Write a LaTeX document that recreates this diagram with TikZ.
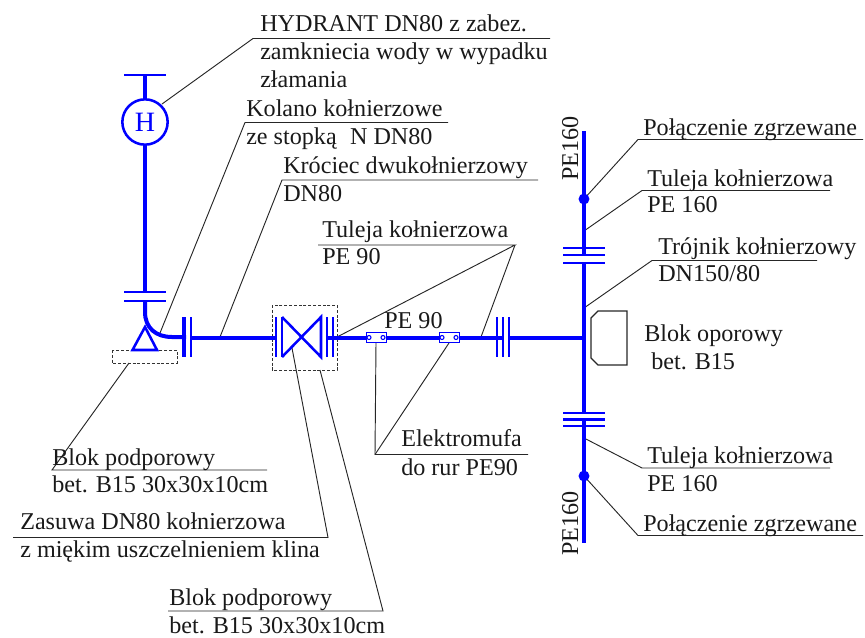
\documentclass[tikz,border=0pt]{standalone}
\usepackage{fontspec}
\setmainfont{Liberation Serif}
\definecolor{pipe}{RGB}{0,0,255}
\tikzset{
  pipeline/.style={draw=pipe,line width=3pt},
  thinpipe/.style={draw=pipe,line width=1.9pt},
  leader/.style={draw=black!85,line width=0.7pt},
  label/.style={anchor=base west,inner sep=0pt,font=\fontsize{18.1}{20}\selectfont,text=black!90},
  dashbox/.style={draw=black!80,line width=0.6pt,dash pattern=on 2.2pt off 1.4pt},
  dot/.style={circle,fill=pipe,inner sep=0pt,minimum size=8.2pt},
  coupler/.style={draw=pipe,line width=1.4pt,fill=white,rectangle,minimum width=15pt,minimum height=7.5pt,inner sep=0pt},
  bubble/.style={circle,draw=pipe,line width=0.8pt,inner sep=0pt,minimum size=3pt,fill=white}
}
\begin{document}
\begin{tikzpicture}[x=0.75pt,y=-0.75pt]
\useasboundingbox (0,0) rectangle (865,637);
% named anchor points
\coordinate (hy) at (162,104);
\coordinate (hyk) at (253,38.5);
\coordinate (hye) at (550,38.5);
\coordinate (kol) at (160,333);
\coordinate (kolk) at (245,122.5);
\coordinate (kole) at (448,122.5);
\coordinate (kro) at (220,337);
\coordinate (krok) at (282,180);
\coordinate (kroe) at (538,180);
\coordinate (tuk) at (515,245);
\coordinate (tus) at (318,245);
\coordinate (tua) at (337,337);
\coordinate (tub) at (481,337);
\coordinate (elk) at (375,454.5);
\coordinate (ele) at (528,454.5);
\coordinate (p1) at (584,199);
\coordinate (p1k) at (638,139.5);
\coordinate (p1e) at (863,139.5);
\coordinate (t1) at (584,231);
\coordinate (t1k) at (642,190.5);
\coordinate (t1e) at (830,190.5);
\coordinate (tr) at (584,308);
\coordinate (trk) at (652,260.5);
\coordinate (tre) at (817,260.5);
\coordinate (t2) at (584,438);
\coordinate (t2k) at (642,468);
\coordinate (t2e) at (830,468);
\coordinate (p2) at (584,476);
\coordinate (p2k) at (638,535.5);
\coordinate (p2e) at (863,535.5);
\coordinate (bl) at (129,363);
\coordinate (blk) at (52,470);
\coordinate (ble) at (267,470);
\coordinate (zs) at (292,348);
\coordinate (zk) at (328,537.5);
\coordinate (ze) at (13,537.5);
\coordinate (bs) at (320,370);
\coordinate (bk) at (383,611);
\coordinate (be) at (168,611);
% leaders
\draw[leader] (hy) -- (hyk) -- (hye);
\draw[leader] (kol) -- (kolk) -- (kole);
\draw[leader] (kro) -- (krok) -- (kroe);
\draw[leader] (tus) -- (tuk) -- (tua);
\draw[leader] (tuk) -- (tub);
\draw[leader] (376,343) -- (elk) -- (ele);
\draw[leader] (449,343) -- (elk);
\draw[leader] (p1) -- (p1k) -- (p1e);
\draw[leader] (t1) -- (t1k) -- (t1e);
\draw[leader] (tr) -- (trk) -- (tre);
\draw[leader] (t2) -- (t2k) -- (t2e);
\draw[leader] (p2) -- (p2k) -- (p2e);
\draw[leader] (bl) -- (blk) -- (ble);
\draw[leader] (zs) -- (zk) -- (ze);
\draw[leader] (bs) -- (bk) -- (be);
% dashed boxes
\draw[dashbox] (112,350) rectangle (177,363);
\draw[dashbox] (272,305) rectangle (337,370);
% hydrant
\draw[thinpipe] (124,75) -- (166,75);
\draw[pipeline] (145,75) -- (145,100);
\node[circle,draw=pipe,line width=1.9pt,minimum size=34pt,inner sep=0pt,text=pipe,font=\fontsize{21}{22}\selectfont] (hyd) at (145,122) {H};
\draw[pipeline] (hyd.south) -- (145,292);
\draw[thinpipe] (124,292) -- (166,292);
\draw[thinpipe] (124,301) -- (166,301);
\draw[pipeline] (145,300) -- (145,312) .. controls (145,328) and (156,337) .. (172,337) -- (186,337);
\draw[thinpipe] (145,327) -- (132.5,350) -- (157,350) -- cycle;
% flanges on branch
\draw[draw=pipe,line width=2.6pt] (184,317) -- (184,357);
\draw[thinpipe] (191,317) -- (191,357);
\draw[pipeline] (190,337.5) -- (276,337.5);
% valve
\draw[thinpipe] (276,317) -- (276,357);
\draw[thinpipe] (282,317) -- (282,357);
\draw[thinpipe] (282,317) -- (321,357) -- (321,317) -- (282,357);
\draw[thinpipe] (327,317) -- (327,357);
\draw[thinpipe] (333,317) -- (333,357);
\draw[pipeline] (326,337.5) -- (366,337.5);
% PE90 run with couplers
\draw[pipeline] (386,337.5) -- (440,337.5);
\draw[pipeline] (459,337.5) -- (504,337.5);
\node[coupler] (c1) at (376.5,337.5) {};
\node[coupler] (c2) at (449.5,337.5) {};
\node[bubble] at (369,337.5) {};
\node[bubble] at (383,337.5) {};
\node[bubble] at (442,337.5) {};
\node[bubble] at (456,337.5) {};
\draw[thinpipe] (497,317) -- (497,357);
\draw[thinpipe] (503,317) -- (503,357);
\draw[thinpipe] (509,317) -- (509,357);
\draw[pipeline] (509,337.5) -- (584,337.5);
% main vertical
\draw[pipeline] (584,131) -- (584,255);
\draw[pipeline] (584,262) -- (584,413);
\draw[pipeline] (584,419) -- (584,543);
\foreach \yy in {248,255,263,413,419.5,426}
  \draw[thinpipe] (563,\yy) -- (605,\yy);
\node[dot] at (p1) {};
\node[dot] at (p2) {};
% thrust block
\draw[draw=black!85,line width=1pt] (591,318) -- (598,311) -- (627,311) -- (627,365) -- (598,365) -- (591,358) -- cycle;
% labels
\node[label] (a1) at (260,31.7) {HYDRANT DN80 z zabez.};
\node[label] (a2) at (260,59.3) {zamkniecia wody w wypadku};
\node[label] (a3) at (260,87.3) {złamania};
\node[label] at (246,116) {Kolano kołnierzowe};
\node[label] at (246,144) {ze stopką\hspace{5.5pt} N DN80};
\node[label] at (283,173.5) {Króciec dwukołnierzowy};
\node[label] at (283,201) {DN80};
\node[label] at (322,237.7) {Tuleja kołnierzowa};
\node[label] at (322,264) {PE 90};
\node[label] at (384,328) {PE 90};
\node[label] at (401,446.7) {Elektromufa};
\node[label] at (401,475) {do rur PE90};
\node[label] at (643,135) {Połączenie zgrzewane};
\node[label] at (647,186) {Tuleja kołnierzowa};
\node[label] at (647,212.7) {PE 160};
\node[label] at (658,254) {Trójnik kołnierzowy};
\node[label] at (658,281.7) {DN150/80};
\node[label] at (644,341.7) {Blok oporowy};
\node[label] at (651,369) {bet. B15};
\node[label] at (647,463.3) {Tuleja kołnierzowa};
\node[label] at (647,491) {PE 160};
\node[label] at (643,531.7) {Połączenie zgrzewane};
\node[label] at (52,465) {Blok podporowy};
\node[label] at (52,492.5) {bet. B15 30x30x10cm};
\node[label] at (20,529) {Zasuwa DN80 kołnierzowa};
\node[label] at (20,557.5) {z miękim uszczelnieniem klina};
\node[label] at (169,605.5) {Blok podporowy};
\node[label] at (169,633) {bet. B15 30x30x10cm};
\node[label,rotate=90] at (578,181) {PE160};
\node[label,rotate=90] at (578,556) {PE160};
\end{tikzpicture}
\end{document}
